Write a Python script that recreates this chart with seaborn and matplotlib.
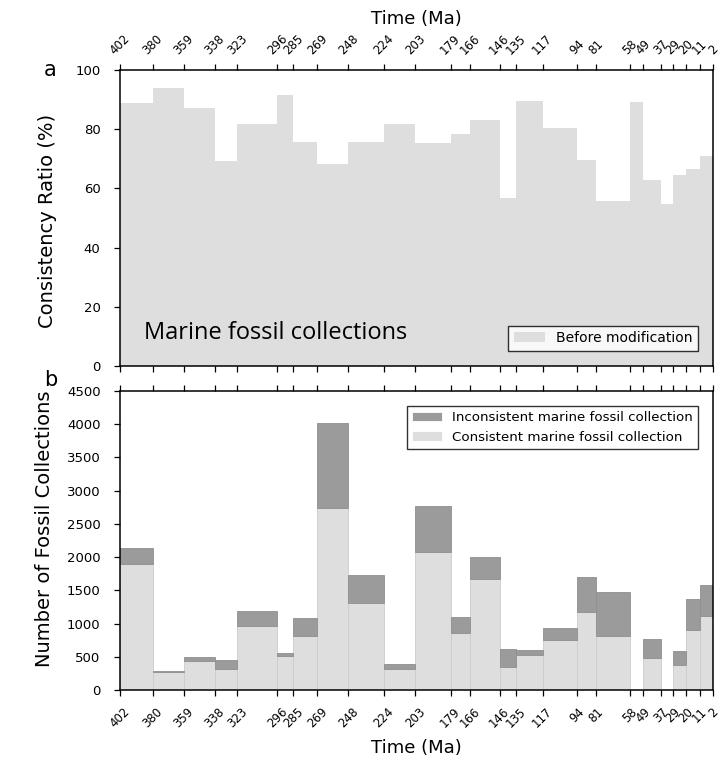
import numpy as np
import pandas as pd
import matplotlib
matplotlib.use("Agg")
import matplotlib.pyplot as plt
import seaborn as sns

# bin edges (Ma), oldest to youngest
time_edges = [402, 380, 359, 338, 323, 296, 285, 269, 248, 224, 203, 179, 166,
              146, 135, 117, 94, 81, 58, 49, 37, 29, 20, 11, 2]

# consistency ratio per bin (%)
ratio = [89.0, 94.0, 87.0, 69.3, 81.7, 91.5, 75.7, 68.1, 75.7, 81.6, 75.4, 78.3,
         83.1, 56.7, 89.5, 80.4, 69.7, 55.9, 89.2, 62.7, 54.6, 64.6, 66.4, 71.0]

# number of collections per bin
consistent = [1900, 270, 435, 310, 965, 505, 820, 2735, 1305, 315, 2080, 865,
              1670, 340, 530, 755, 1180, 815, 0, 485, 0, 370, 905, 1115]
inconsistent = [232, 20, 65, 145, 220, 50, 270, 1290, 425, 75, 690, 235,
                335, 275, 70, 185, 515, 655, 0, 290, 0, 215, 460, 470]

LIGHT = "#dedede"
DARK = "#9b9b9b"
LABEL_INC = "Inconsistent marine fossil collection"
LABEL_CON = "Consistent marine fossil collection"

edges = np.array(time_edges, dtype=float)
mids = (edges[:-1] + edges[1:]) / 2
bins = sorted(time_edges)

sns.set_style("ticks")
plt.rcParams["font.family"] = ["DejaVu Sans"]
plt.rcParams["axes.edgecolor"] = "black"
plt.rcParams["axes.linewidth"] = 1.1
plt.rcParams["text.color"] = "black"
plt.rcParams["axes.labelcolor"] = "black"
plt.rcParams["xtick.color"] = "black"
plt.rcParams["ytick.color"] = "black"

fig = plt.figure(figsize=(7.2, 7.6), dpi=100)
ax1 = fig.add_axes([0.1667, 0.5184, 0.8236, 0.3895])
ax2 = fig.add_axes([0.1667, 0.0921, 0.8236, 0.3934])

# ---- panel a: consistency ratio
df_ratio = pd.DataFrame({"time": mids, "ratio": ratio})
sns.histplot(data=df_ratio, x="time", weights="ratio", bins=bins,
             element="step", fill=True, color=LIGHT, alpha=1, linewidth=0,
             ax=ax1, label="Before modification")
ax1.set_ylim(0, 100)
ax1.set_yticks(np.arange(0, 101, 20))
ax1.set_ylabel("Consistency Ratio (%)", fontsize=14)
ax1.yaxis.set_label_coords(-0.106, 0.49)
ax1.text(0.04, 0.09, "Marine fossil collections", transform=ax1.transAxes,
         fontsize=17, family="Open Sans", va="baseline")
ax1.legend(loc="lower right", frameon=True, fancybox=False, edgecolor="black",
           fontsize=10, borderaxespad=1.1, handlelength=2.2)

# ---- panel b: fossil collection counts, stacked
df = pd.DataFrame({
    "time": np.concatenate([mids, mids]),
    "count": consistent + inconsistent,
    "kind": [LABEL_CON] * len(mids) + [LABEL_INC] * len(mids),
})
sns.histplot(data=df, x="time", weights="count", hue="kind",
             hue_order=[LABEL_INC, LABEL_CON], palette=[DARK, LIGHT],
             multiple="stack", bins=bins, element="bars", alpha=1,
             linewidth=0.6, ax=ax2)
for p in ax2.patches:
    fc = p.get_facecolor()
    p.set_edgecolor(tuple(c * 0.92 for c in fc[:3]))
ax2.set_ylim(0, 4500)
ax2.set_yticks(np.arange(0, 4501, 500))
ax2.set_ylabel("Number of Fossil Collections", fontsize=14)
ax2.yaxis.set_label_coords(-0.111, 0.538)
sns.move_legend(ax2, "upper right", title=None, frameon=True, fancybox=False,
                edgecolor="black", fontsize=9.6, borderaxespad=1.1,
                handlelength=2.2)

# ---- shared time axis styling
for ax, top_labels in [(ax1, True), (ax2, False)]:
    ax.set_xlim(402, 2)
    ax.set_xticks(time_edges)
    ax.set_xticklabels([str(t) for t in time_edges])
    ax.tick_params(axis="x", top=True, bottom=True, labeltop=top_labels,
                   labelbottom=not top_labels, labelsize=8.5, direction="out",
                   length=4, width=0.9, pad=5 if top_labels else 7)
    ax.tick_params(axis="y", labelsize=9.5, direction="out", length=4,
                   width=0.9, pad=10)
    for s in ax.spines.values():
        s.set_visible(True)
        s.set_color("black")
    for t in ax.xaxis.get_major_ticks():
        lab = t.label2 if top_labels else t.label1
        lab.set_rotation(45)
        lab.set_ha("center")
        lab.set_va("bottom" if top_labels else "top")

ax1.xaxis.set_label_position("top")
ax1.set_xlabel("Time (Ma)", fontsize=13, labelpad=6)
ax2.set_xlabel("Time (Ma)", fontsize=13, labelpad=6)

fig.text(0.061, 0.908, "a", fontsize=15, va="center")
fig.text(0.061, 0.500, "b", fontsize=15, va="center")

fig.savefig("out.png", dpi=100)
